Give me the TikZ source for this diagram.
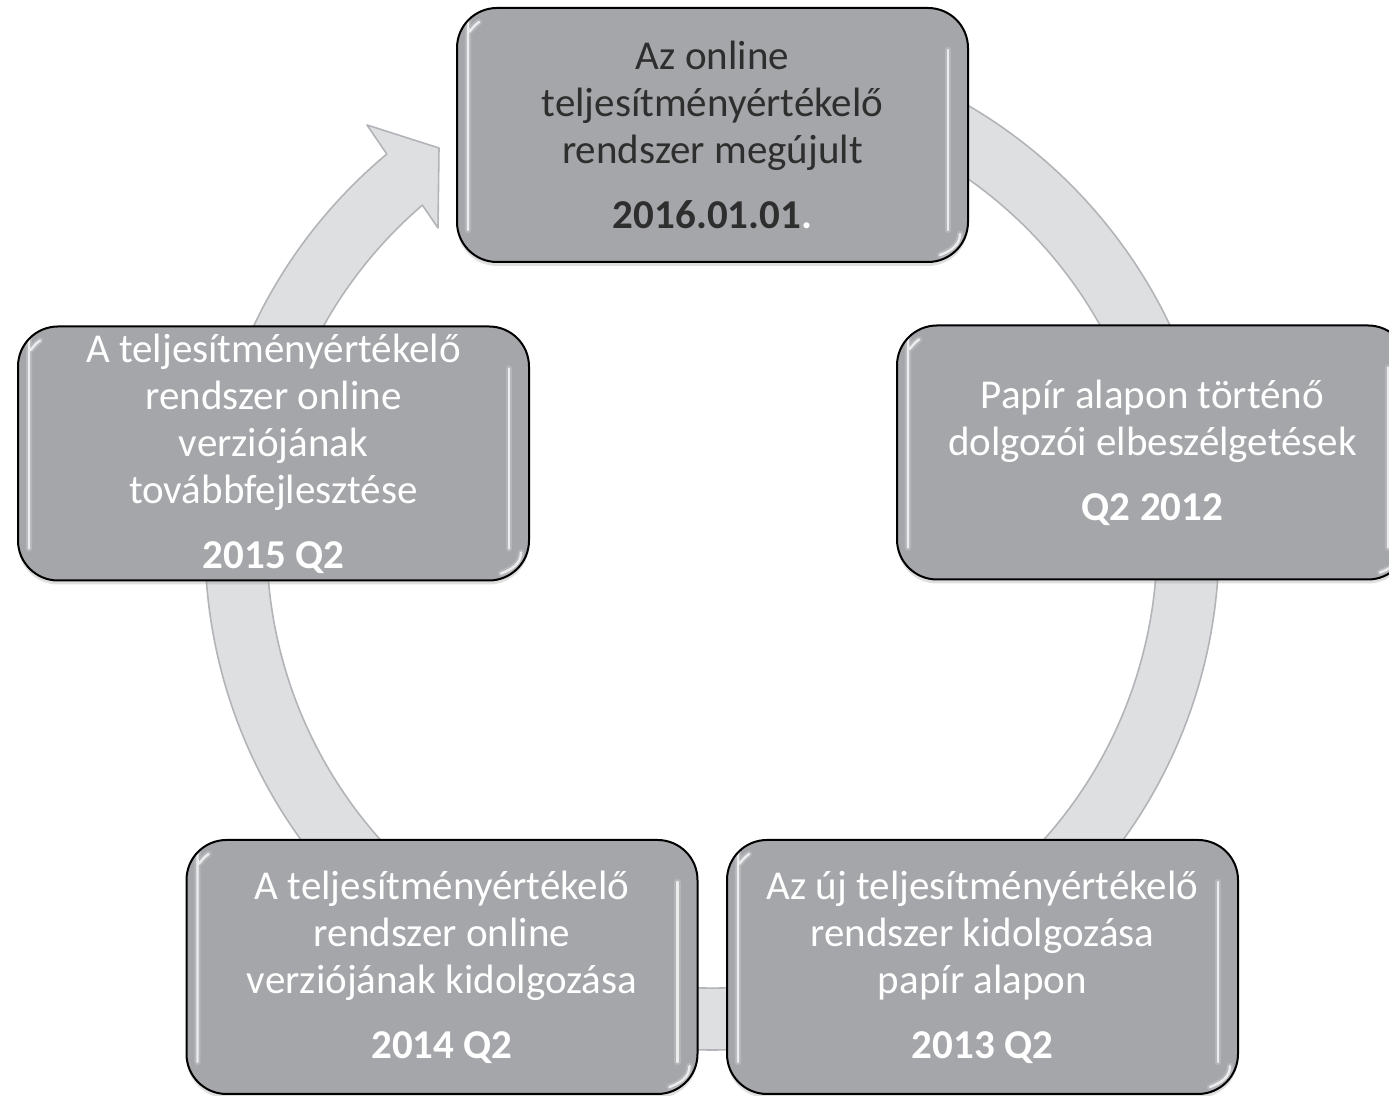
\documentclass[tikz,border=0pt]{standalone}
\usepackage{fontspec}
\setmainfont{Carlito}
\usetikzlibrary{shadows}
\definecolor{boxfill}{HTML}{A5A6AA}
\definecolor{ringfill}{HTML}{DEDFE1}
\definecolor{ringline}{HTML}{B3B4B7}
\definecolor{darktext}{HTML}{2E2E2E}
\tikzset{
  glow/.style={white, line cap=round, line join=round},
  stagebox/.style={draw=black, line width=1pt, fill=boxfill, rounded corners=20pt,
    minimum width=255.5pt, minimum height=127pt, align=center, inner sep=0pt,
    font=\fontsize{20.5}{23.5}\selectfont, text=white,
    drop shadow={shadow xshift=0pt, shadow yshift=-2pt, opacity=0.25},
    path picture={
      \foreach \w/\o in {3.2pt/0.18, 1.2pt/0.75}{
      \draw[glow, opacity=\o, line width=\w]
        ([xshift=11pt,yshift=-7pt]path picture bounding box.north west)
        to[out=215,in=90] ([xshift=5.5pt,yshift=-24pt]path picture bounding box.north west)
        -- ([xshift=5.5pt,yshift=16pt]path picture bounding box.south west);
      \draw[glow, opacity=\o, line width=\w]
        ([xshift=-10pt,yshift=-21pt]path picture bounding box.north east)
        -- ([xshift=-10pt,yshift=16pt]path picture bounding box.south east);
      \draw[glow, opacity=\o, line width=\w]
        ([xshift=-4pt,yshift=14pt]path picture bounding box.south east)
        to[out=-90,in=20] ([xshift=-14pt,yshift=3.5pt]path picture bounding box.south east);
      }
    }},
  ringstyle/.style={fill=ringfill, draw=ringline, line width=0.8pt, line join=round}
}
\begin{document}
\begin{tikzpicture}[x=0.5pt,y=0.5pt]
\useasboundingbox (0,0) rectangle (1389,1096);
% cycle ring with arrowhead
\begin{scope}[shift={(712,553)}]
  \path[ringstyle] (129.9:253.5pt) arc[start angle=129.9, end angle=435, radius=253.5pt]
    -- (435:222.5pt) arc[start angle=435, end angle=130.6, radius=222.5pt]
    -- (-274,315) -- (-273,395) -- (-345,418) -- cycle;
\end{scope}
% stages
\node[stagebox, text=darktext] (n1) at (712.5,961)
  {Az online\\teljesítményértékelő\\rendszer megújult\\[9pt]\textbf{2016.01.01}\textcolor{white}{\textbf{.}}};
\node[stagebox] (n2) at (1152.5,643.5)
  {Papír alapon történő\\dolgozói elbeszélgetések\\[9pt]\textbf{Q2 2012}};
\node[stagebox] (n3) at (982.5,129)
  {Az új teljesítményértékelő\\rendszer kidolgozása\\papír alapon\\[9pt]\textbf{2013 Q2}};
\node[stagebox] (n4) at (442,129)
  {A teljesítményértékelő\\rendszer online\\verziójának kidolgozása\\[9pt]\textbf{2014 Q2}};
\node[stagebox] (n5) at (273.5,642.5)
  {A teljesítményértékelő\\rendszer online\\verziójának\\továbbfejlesztése\\[9pt]\textbf{2015 Q2}};
\end{tikzpicture}
\end{document}
